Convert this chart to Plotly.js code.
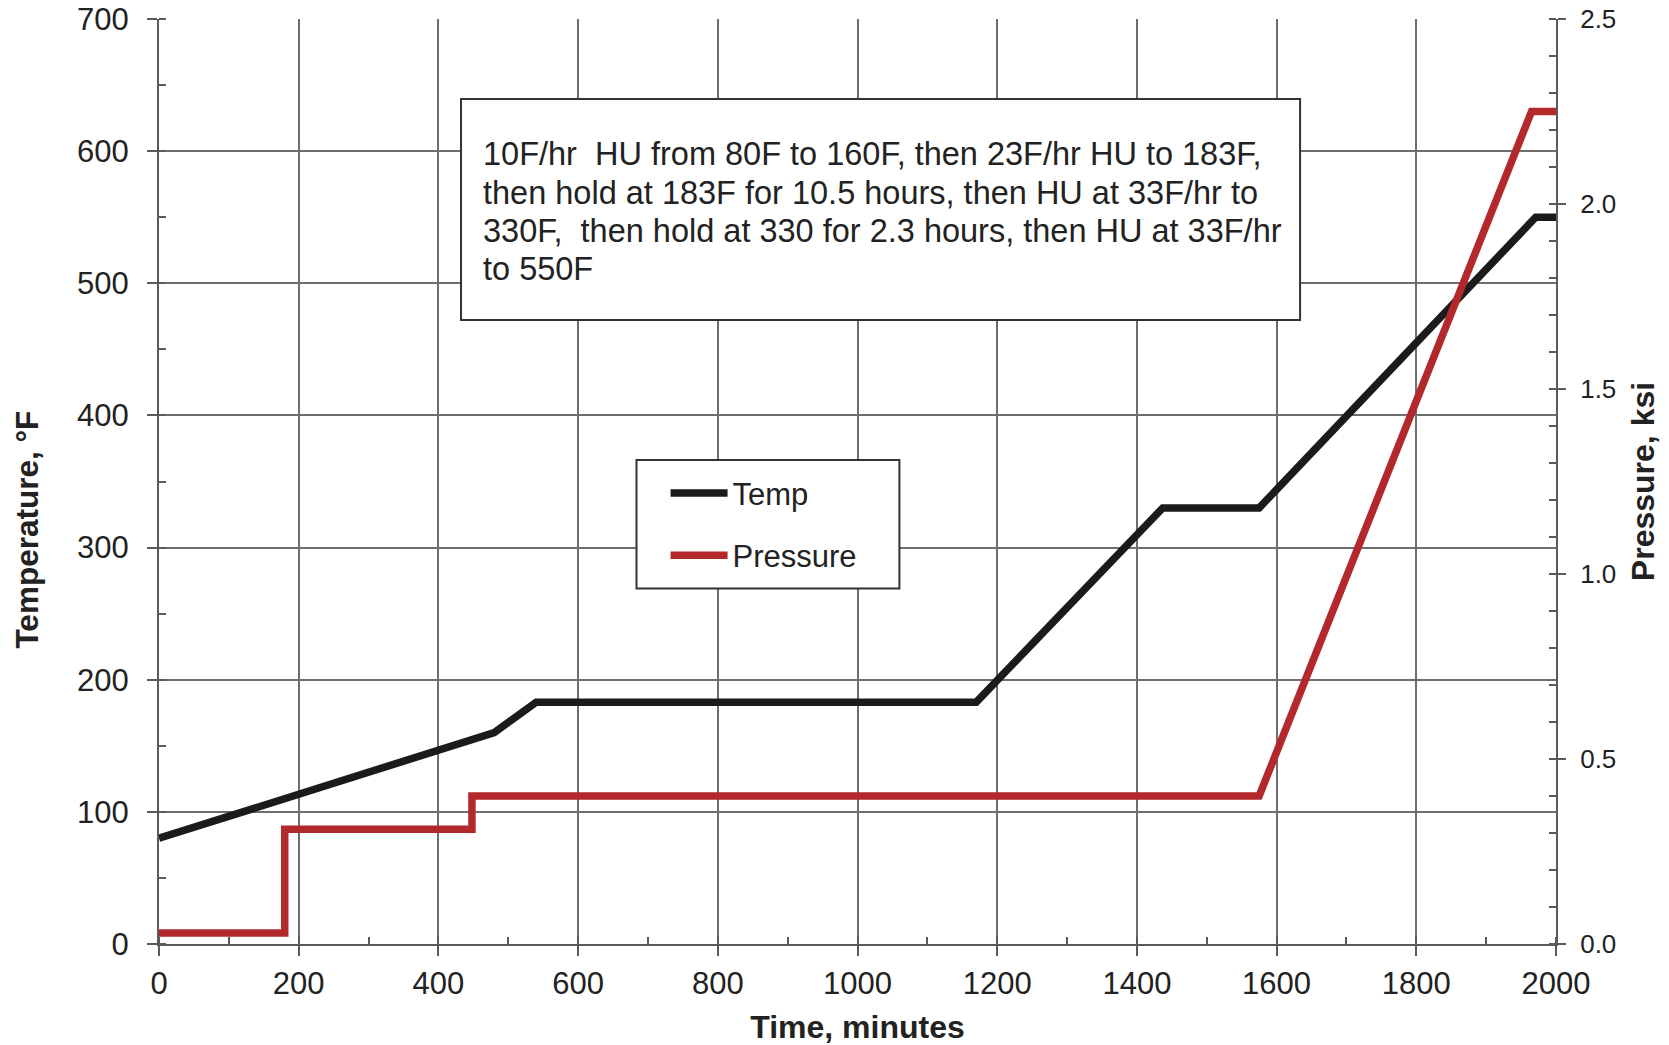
<!DOCTYPE html>
<html>
<head>
<meta charset="utf-8">
<script src="https://cdn.plot.ly/plotly-3.0.1.min.js"></script>
<style>html,body{margin:0;padding:0;background:#fff;}#chart{width:1669px;height:1045px;}</style>
</head>
<body>
<div id="chart"></div>
<script>
// Temperature profile (°F) vs time (minutes)
const tempTime = [0, 480, 540, 1170, 1437, 1575, 1971, 2000];
const tempValues = [80, 160, 183, 183, 330, 330, 550, 550];
// Pressure profile (ksi) vs time (minutes)
const presTime = [0, 180, 180, 448, 448, 1575, 1965, 2000];
const presValues = [0.03, 0.03, 0.31, 0.31, 0.40, 0.40, 2.25, 2.25];

const seriesNames = ['Temp', 'Pressure'];
const noteLines = [
  '10F/hr  HU from 80F to 160F, then 23F/hr HU to 183F,',
  'then hold at 183F for 10.5 hours, then HU at 33F/hr to',
  '330F,  then hold at 330 for 2.3 hours, then HU at 33F/hr',
  'to 550F'
];
const xTitle = 'Time, minutes';
const yTitle = 'Temperature, °F';
const y2Title = 'Pressure, ksi';

const FONT = 'Arial, "Liberation Sans", Helvetica, sans-serif';
const AX = '#5a5a5a';
const GRID = '#6e6e6e';
const NBSP = '\u00A0';

const traces = [
  {x: tempTime, y: tempValues, name: seriesNames[0], mode: 'lines', yaxis: 'y',
   legendgroup: 'a', line: {color: '#1b1b1b', width: 7.5}},
  {x: presTime, y: presValues, name: seriesNames[1], mode: 'lines', yaxis: 'y2',
   legendgroup: 'b', line: {color: '#b3282a', width: 7.5}}
];

// note lines: paper y of each line centre inside the note box
const noteY = [0.8537, 0.8122, 0.7708, 0.7294];
const annotations = noteLines.map((t, i) => ({
  text: t, xref: 'paper', yref: 'paper', x: 0.2305, y: noteY[i], xanchor: 'left', yanchor: 'middle',
  align: 'left', showarrow: false, font: {size: 32.5, color: '#222', family: FONT}
}));

const layout = {
  width: 1669, height: 1045,
  margin: {l: 159, r: 113, t: 19, b: 101},
  paper_bgcolor: '#fff', plot_bgcolor: '#fff',
  font: {family: FONT, size: 31, color: '#222'},
  showlegend: true,
  legend: {x: 0.3626, y: 0.5165, xanchor: 'left', yanchor: 'top',
           bgcolor: 'rgba(0,0,0,0)', borderwidth: 0, font: {size: 31, color: '#222'},
           traceorder: 'grouped', tracegroupgap: 19, itemwidth: 57},
  xaxis: {range: [0, 2000], tick0: 0, dtick: 200, showgrid: true, gridcolor: GRID, gridwidth: 2,
          showline: true, linecolor: AX, linewidth: 2, zeroline: false,
          ticks: 'outside', ticklen: 10, tickwidth: 2, tickcolor: AX, ticklabelstandoff: 1,
          minor: {dtick: 100, ticks: 'inside', ticklen: 7, tickwidth: 2, tickcolor: AX, showgrid: false},
          tickfont: {size: 31, color: '#222'},
          title: {text: '<b>' + xTitle + '</b>', font: {size: 32, color: '#222'}, standoff: 16}},
  yaxis: {range: [0, 700], tick0: 0, dtick: 100, showgrid: true, gridcolor: GRID, gridwidth: 2,
          showline: true, linecolor: AX, linewidth: 2, zeroline: false,
          ticks: 'outside', ticklen: 10, tickwidth: 2, tickcolor: AX, ticklabelstandoff: 12,
          minor: {dtick: 50, ticks: 'inside', ticklen: 7, tickwidth: 2, tickcolor: AX, showgrid: false},
          tickfont: {size: 31, color: '#222'},
          title: {text: '<b>' + yTitle + NBSP.repeat(11) + '</b>', font: {size: 31.5, color: '#222'}, standoff: 29}},
  yaxis2: {range: [0, 2.5], tick0: 0, dtick: 0.5, tickformat: '.1f', overlaying: 'y', side: 'right',
           showgrid: false, showline: true, linecolor: AX, linewidth: 2, zeroline: false,
           ticks: 'outside', ticklen: 8, tickwidth: 2, tickcolor: AX, ticklabelstandoff: 9,
           minor: {dtick: 0.1, ticks: 'inside', ticklen: 7, tickwidth: 2, tickcolor: AX, showgrid: false},
           tickfont: {size: 26, color: '#222'},
           title: {text: '<b>' + y2Title + '</b>', font: {size: 32, color: '#222'}, standoff: 16}},
  shapes: [
    {type: 'rect', xref: 'paper', yref: 'paper', x0: 0.2162, x1: 0.8168, y0: 0.6746, y1: 0.9135,
     fillcolor: '#fff', line: {color: '#333', width: 2}, layer: 'above'},
    {type: 'rect', xref: 'paper', yref: 'paper', x0: 0.3418, x1: 0.5300, y0: 0.3842, y1: 0.5232,
     fillcolor: '#fff', line: {color: '#333', width: 2}, layer: 'above'}
  ],
  annotations: annotations
};

Plotly.newPlot('chart', traces, layout, {displayModeBar: false, staticPlot: true});
</script>
</body>
</html>
